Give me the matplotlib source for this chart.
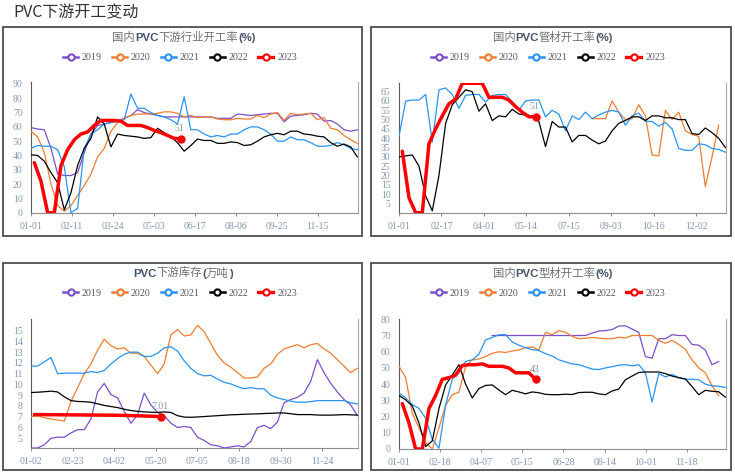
"""PVC downstream operating-rate dashboard (4 panels)."""

import matplotlib as mpl

mpl.use("Agg")
import matplotlib.pyplot as plt
import numpy as np
from matplotlib.lines import Line2D
from matplotlib.offsetbox import AnchoredOffsetbox, HPacker, TextArea
from matplotlib.patches import Rectangle

CJK = "Noto Sans CJK SC"
SERIF = "Liberation Serif"

YEARS = ["2019", "2020", "2021", "2022", "2023"]
COLORS = ["#7b4fc9", "#ed7d31", "#2893f2", "#000000", "#ff0000"]

# ── Panel 1: 国内PVC下游行业开工率 (%) ─────────────────────────────────────
ind_ticks = ["01-01", "02-11", "03-24", "05-03", "06-17", "08-06", "09-25", "11-15"]
ind_2019 = [59.5, 58.5, 58, 45, 27, 26, 26, 28, 42, 55, 61, 62, 63, 64, 66, 68, 72, 70, 69, 68,
            67, 67, 67, 67, 67, 67, 67, 67, 66, 66, 66, 69, 68.5, 68, 68.5, 69, 69.5, 69.5, 63.5, 67.5,
            68, 68.5, 69.5, 69, 64, 64.5, 62, 58, 57, 58]
ind_2020 = [57, 53, 42, 20, 5, 1, 5, 12, 19, 27, 39, 45, 57, 63, 66, 68, 69, 69, 69, 69.5,
            70.5, 70.5, 69.5, 67, 68, 66.5, 67, 67, 65.5, 65, 65, 66, 65.5, 65.5, 68, 66.5, 69, 70, 64.5, 69.5,
            68.5, 69, 69.5, 65, 66.5, 59, 58, 54, 51, 48.5]
ind_2021 = [45, 47, 46.5, 46.5, 44, 32, 0, 3, 45, 55, 58, 62, 63, 64, 65, 83, 73, 73, 70, 68,
            67, 65, 62, 81, 58, 58, 55, 53, 54, 53, 55, 55, 58, 60, 60, 58, 55, 50, 50, 53,
            51, 51, 49, 46.5, 46.5, 47, 49, 47.5, 45, 44]
ind_2022 = [40.5, 40, 36, 28, 21, 2, 14, 33, 45, 52, 67, 62, 46, 55, 54, 53.5, 53, 52, 52.5, 59,
            56, 53, 49, 43, 47, 51.5, 50.5, 50.5, 48.5, 48.5, 49.5, 49, 47, 47.5, 50, 53, 54.5, 55.5, 54.5, 57,
            57, 55, 54.5, 53.5, 53, 49, 46.5, 48, 46, 39]
ind_2023 = [35, 22, 0, 0, 33, 44, 51, 55, 56.5, 61, 64.5, 64.5, 64.5, 64, 61, 61, 61, 59.5, 57.5, 56,
            54, 52, 51.5]

# ── Panel 2: 国内PVC管材开工率 (%) ──────────────────────────────────────────
pipe_ticks = ["01-01", "02-17", "04-01", "05-14", "07-15", "09-03", "10-16", "12-02"]
pipe_2019 = []
pipe_2020 = [None] * 29 + [50.5, 50.5, 50.5, 60, 54, 50, 50.5, 58, 52, 31, 30.5, 55, 50, 54, 44, 42, 41, 14,
                           30, 47]
pipe_2021 = [41, 60, 60.5, 60.5, 63.5, 38, 66, 67, 63.5, 56, 63, 63.5, 63.5, 59.5, 63, 63.5, 63.5, 59.5, 55, 60,
             60.5, 60.5, 51.5, 55, 53, 44, 52, 50, 54, 50.5, 52.5, 54, 55, 54, 47, 52, 53.5, 49, 49, 46.5,
             48.5, 45, 34.5, 33.5, 33.5, 37, 36.5, 34.5, 34, 32.5]
pipe_2022 = [30, 30.5, 31, 25, 9, 1, 20, 48, 58, 62, 66, 65, 54.5, 58.5, 49.5, 52, 51.5, 55.5, 53, 52.5,
             52, 49, 35.5, 49, 46, 46, 38, 41.5, 41.5, 39, 37, 38.5, 44, 48, 49.5, 51.5, 51.5, 49.5, 52, 52,
             51, 51, 50, 50, 42.5, 42, 45.5, 43, 40, 35]
pipe_2023 = [33, 8, 0, 0, 37, 45, 52, 58.5, 61, 69.5, 69.5, 69.5, 69.5, 62, 62, 62, 60.5, 57, 54, 51.5, 51.5]

# ── Panel 3: PVC下游库存 (万吨) ─────────────────────────────────────────────
stock_ticks = ["01-02", "02-23", "04-02", "05-20", "07-05", "08-18", "09-30", "11-24"]
stock_2019 = [4.1, 4.1, 4.4, 5.0, 5.1, 5.1, 5.5, 5.8, 5.8, 6.8, 9.3, 10.1, 9.05, 8.75, 7.5, 6.4, 7.2, 9.2, 8.1, 7.4,
              7.1, 6.4, 6.0, 6.1, 6.0, 5.1, 4.8, 4.4, 4.3, 4.1, 4.2, 4.3, 4.2, 4.7, 6.0, 6.2, 5.9, 6.5, 8.3, 8.6,
              8.8, 9.2, 10.3, 12.3, 11.1, 10.1, 9.3, 8.6, 8.1, 7.1]
stock_2020 = [7.0, 7.1, 6.9, 6.8, 6.7, 6.6, 8.4, 9.7, 11.0, 11.9, 13.2, 14.2, 13.6, 13.3, 13.4, 12.9, 12.9, 12.6,
              11.8, 11.0, 11.9, 14.6, 15.1, 14.5, 14.6, 15.5, 14.9, 13.8, 12.7, 12.0, 11.6, 11.1, 10.6, 10.6,
              10.7, 11.5, 11.9, 12.8, 13.3, 13.5, 13.7, 13.4, 13.7, 13.8, 13.3, 12.9, 12.3, 11.7, 11.1, 11.5]
stock_2021 = [11.7, 11.7, 12.1, 12.5, 11.0, 11.05, 11.05, 11.05, 11.05, 11.2, 11.1, 11.3, 11.9, 12.4, 12.8, 13.0,
              13.0, 12.6, 12.6, 12.9, 13.4, 13.5, 13.1, 12.2, 11.5, 11.0, 10.8, 10.85, 10.5, 10.2, 10.05, 9.8,
              9.6, 9.7, 9.6, 9.6, 9.0, 8.75, 8.6, 8.45, 8.35, 8.35, 8.4, 8.5, 8.5, 8.5, 8.5, 8.5, 8.3, 8.2]
stock_2022 = [9.25, 9.28, 9.32, 9.38, 9.3, 8.85, 8.5, 8.42, 8.4, 8.35, 8.2, 8.05, 7.95, 7.85, 7.7, 7.58, 7.5,
              7.45, 7.42, 7.4, 7.45, 7.4, 7.1, 6.97, 6.95, 6.98, 7.02, 7.06, 7.1, 7.14, 7.18, 7.2, 7.23, 7.25,
              7.27, 7.3, 7.32, 7.35, 7.35, 7.28, 7.2, 7.2, 7.2, 7.16, 7.15, 7.15, 7.17, 7.2, 7.18, 7.15]
stock_2023 = [7.2, 7.2, 7.19, 7.19, 7.18, 7.18, 7.17, 7.17, 7.16, 7.16, 7.15, 7.15, 7.14, 7.13, 7.12, 7.1,
              7.08, 7.06, 7.04, 7.01]

# ── Panel 4: 国内PVC型材开工率 (%) ──────────────────────────────────────────
prof_ticks = ["01-01", "02-18", "04-07", "05-15", "06-28", "08-14", "10-01", "11-18"]
prof_2019 = [None] * 14 + [70, 70, 70, 70, 70, 70, 70, 70, 70, 70, 70, 70, 70, 70, 70,
                           71.5, 72.8, 73, 73.7, 75.8, 76, 74, 72, 57, 56, 68, 68, 70.5, 70, 70, 64.5, 64, 61, 52, 54]
prof_2020 = [51, 44, 22, 13, 4, 0, 13, 27, 33.5, 35, 51, 55, 55.5, 57, 59, 60, 59.5, 60.5, 61, 62.5,
             63, 61, 72, 70.5, 73, 72, 69.5, 68, 68.3, 68.8, 68.4, 68, 68, 69, 68.5, 70, 70, 70, 70, 67,
             65.2, 67, 64.5, 61.5, 55, 50, 47, 39, 33]
prof_2021 = [34.5, 31.5, 27.5, 25, 19, 6, 0.5, 27, 43, 47.5, 54, 55, 58.5, 67.3, 68.8, 70.5, 70.5, 66, 64, 62.5,
             61.3, 60.7, 58.8, 57.3, 55, 53.7, 52.5, 52, 50.7, 49.3, 49, 50, 50.8, 51.7, 52, 51.3, 52, 47, 29, 46.5,
             44.5, 46, 44, 43, 43, 42.7, 40, 39, 38.7, 38]
prof_2022 = [33, 30.3, 26.5, 16, 1.5, 5, 25, 39.5, 45.6, 52, 40, 31.5, 37.3, 39.2, 39.5, 36.4, 33.5, 36.2, 35.2, 34,
             35.2, 34.7, 33.7, 33.5, 33.5, 33.8, 33.6, 34.8, 35, 35, 34, 33.5, 35.8, 37, 42.7, 45, 47.2, 47.5,
             47.5, 47.5, 46.5, 45, 44, 43.2, 38.5, 33.5, 36.2, 35.6, 35.3, 32]
prof_2023 = [28, 16, 0, 0, 25, 33, 43, 44, 45.5, 51.5, 52, 52, 52.5, 51, 51, 51, 50, 47, 47, 47, 43]

W, H = 735, 475
TICK_COLOR = "#8497b0"
TEXT_GRAY = "#595959"


def fig_rect(left, top, right, bottom):
    """Pixel box (from top-left) -> figure-fraction rect."""
    return [left / W, 1 - bottom / H, (right - left) / W, (bottom - top) / H]


def add_title(fig, pieces, cx, cy):
    """Centered title made of mixed-weight text pieces."""
    areas = []
    for text, bold in pieces:
        props = dict(fontsize=8.2, color="#44546a" if bold else "#6f6f6f",
                     family=["Liberation Sans"] if bold else [CJK],
                     fontweight="bold" if bold else "normal")
        areas.append(TextArea(text, textprops=props))
    box = HPacker(children=areas, align="baseline", pad=0, sep=0)
    anchored = AnchoredOffsetbox(loc="center", child=box, pad=0, borderpad=0, frameon=False,
                                 bbox_to_anchor=(cx / W, 1 - cy / H), bbox_transform=fig.transFigure)
    fig.add_artist(anchored)


def draw_panel(fig, box, axbox, title, title_x, title_y, legend_x, legend_y,
               series, ticks, tick_step, ylim, yticks, end_label):
    fig.add_artist(Rectangle((box[0] / W, 1 - box[3] / H), (box[2] - box[0]) / W, (box[3] - box[1]) / H,
                             transform=fig.transFigure, fill=False, edgecolor="#4d4d4d", lw=1.3))
    ax = fig.add_axes(fig_rect(*axbox))

    for values, color, year in zip(series, COLORS, YEARS):
        y = np.array(values, dtype=float)
        if year == "2023":
            x = np.arange(len(y)) + 0.5
            ax.plot(x, y, color=color, lw=2.5, solid_capstyle="round", zorder=5)
            ax.plot(x[-1], y[-1], "o", color=color, ms=5, zorder=6)
            ax.annotate(end_label, xy=(x[-1], y[-1]), xytext=(-1, 4), textcoords="offset points",
                        ha="center", va="bottom", fontsize=7, family=SERIF, color=TICK_COLOR)
        else:
            x = np.arange(len(y))
            ax.plot(x, y, color=color, lw=0.9, zorder=3)

    ax.set_xlim(0, 49.1)
    ax.set_ylim(*ylim)
    ax.set_xticks(np.arange(len(ticks)) * tick_step)
    ax.set_xticklabels(ticks)
    ax.set_yticks(yticks)
    ax.tick_params(axis="x", length=2.5, width=0.7, color="#8c8c8c", pad=4,
                   labelsize=7, labelcolor=TICK_COLOR)
    ax.tick_params(axis="y", length=0, pad=6, labelsize=7, labelcolor=TICK_COLOR)
    for lab in ax.get_xticklabels() + ax.get_yticklabels():
        lab.set_family(SERIF)
    ax.spines["top"].set_visible(False)
    ax.spines["left"].set_color("#595959")
    ax.spines["bottom"].set_color("#8c8c8c")
    ax.spines["right"].set_color("#a6a6a6")
    for s in ("left", "bottom", "right"):
        ax.spines[s].set_linewidth(0.8)
    ax.patch.set_alpha(0)

    add_title(fig, title, title_x, title_y)

    handles = [Line2D([], [], color=c, lw=2.4 if yr == "2023" else 1.8, marker="o", ms=4.5,
                      mfc="white", mec=c, mew=1.5) for c, yr in zip(COLORS, YEARS)]
    ax.legend(handles, YEARS, loc="center", bbox_to_anchor=(legend_x / W, 1 - legend_y / H),
              bbox_transform=fig.transFigure, ncol=5, frameon=False, handlelength=1.5,
              handletextpad=0.4, columnspacing=1.0, prop={"family": SERIF, "size": 7.2},
              labelcolor=TEXT_GRAY)
    return ax


fig = plt.figure(figsize=(W / 100, H / 100), dpi=100)
fig.text(13 / W, 1 - 13 / H, "PVC下游开工变动", family=[CJK], fontsize=11.5, color="#333333",
         ha="left", va="center")

draw_panel(fig, (3, 27, 362, 236), (31, 81.7, 358, 212.7),
           [("国内", False), ("PVC", True), ("下游行业开工率", False), ("(%)", True)], 184, 37.7, 180, 57.7,
           [ind_2019, ind_2020, ind_2021, ind_2022, ind_2023], ind_ticks, 6.15,
           (0, 91.6), np.arange(0, 91, 10), "51")

draw_panel(fig, (371, 27, 731, 236), (399, 83.3, 726, 212.7),
           [("国内", False), ("PVC", True), ("管材开工率", False), ("(%)", True)], 553, 37.7, 548, 57.7,
           [pipe_2019, pipe_2020, pipe_2021, pipe_2022, pipe_2023], pipe_ticks, 6.375,
           (0, 69.5), np.arange(5, 66, 5), "51")

draw_panel(fig, (3, 263, 362, 470), (31, 319.3, 358, 448.3),
           [("PVC", True), ("下游库存", False), ("(", True), ("万吨", False), (")", True)], 183, 273.3, 180, 293.3,
           [stock_2019, stock_2020, stock_2021, stock_2022, stock_2023], stock_ticks, 6.25,
           (4.07, 16.05), np.arange(5, 16, 1), "7.01")

draw_panel(fig, (371, 263, 731, 470), (399, 319.3, 726, 449),
           [("国内", False), ("PVC", True), ("型材开工率", False), ("(%)", True)], 553, 273.3, 548, 293.3,
           [prof_2019, prof_2020, prof_2021, prof_2022, prof_2023], prof_ticks, 6.175,
           (0, 80), np.arange(0, 81, 10), "43")

fig.savefig("out.png", dpi=100)
plt.close(fig)
